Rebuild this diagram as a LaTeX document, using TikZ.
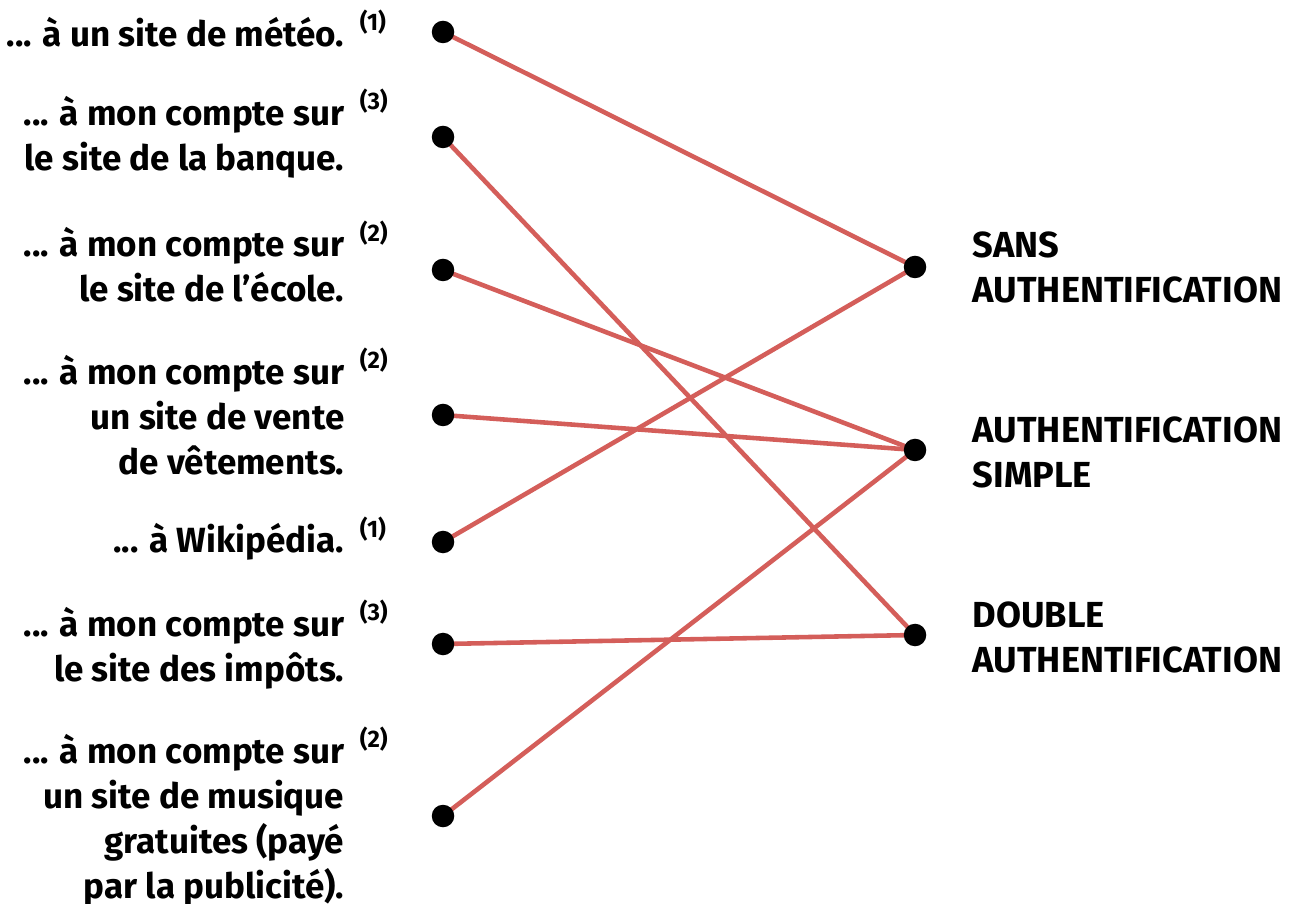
\documentclass[tikz,border=0pt]{standalone}
\usepackage{fontspec}
\setmainfont{Fira Sans}
\usetikzlibrary{positioning,backgrounds}
\definecolor{linkred}{RGB}{212, 94, 90}

\tikzset{
  dot/.style={circle,fill=black,inner sep=0pt,minimum size=6.4pt},
  link/.style={draw=linkred,line width=1.3pt},
  site/.style={anchor=east,align=right,inner sep=0pt,font=\fontsize{9.95}{12.8}\selectfont\bfseries},
  level/.style={anchor=west,align=left,inner sep=0pt,font=\fontsize{10.3}{12.8}\selectfont\bfseries},
  note/.style={anchor=north west,inner sep=0pt,font=\fontsize{6.8}{7}\selectfont\bfseries},
}

\begin{document}
\begin{tikzpicture}[x=0.01cm,y=-0.01cm]
  \useasboundingbox (0,0) rectangle (1298,904);

  % left column: the sites
  \node[site] (meteo)   at (345,32)  {... à un site de météo.};
  \node[site] (banque)  at (345,137) {... à mon compte sur\\le site de la banque.};
  \node[site] (ecole)   at (345,265) {... à mon compte sur\\le site de l’école.};
  \node[site] (vetem)   at (345,415) {... à mon compte sur\\un site de vente\\de vêtements.};
  \node[site] (wiki)    at (345,542) {... à Wikipédia.};
  \node[site] (impots)  at (345,648) {... à mon compte sur\\le site des impôts.};
  \node[site] (musique) at (345,820) {... à mon compte sur\\un site de musique\\gratuites (payé\\par la publicité).};

  \node[note] at ([xshift=4pt,yshift=2pt]meteo.north east)   {(1)};
  \node[note] at ([xshift=4pt,yshift=2pt]banque.north east)  {(3)};
  \node[note] at ([xshift=4pt,yshift=2pt]ecole.north east)   {(2)};
  \node[note] at ([xshift=4pt,yshift=2pt]vetem.north east)   {(2)};
  \node[note] at ([xshift=4pt,yshift=2pt]wiki.north east)    {(1)};
  \node[note] at ([xshift=4pt,yshift=2pt]impots.north east)  {(3)};
  \node[note] at ([xshift=4pt,yshift=2pt]musique.north east) {(2)};

  % dots
  \node[dot] (d1) at (443,32)  {};
  \node[dot] (d2) at (443,137) {};
  \node[dot] (d3) at (443,270) {};
  \node[dot] (d4) at (443,415) {};
  \node[dot] (d5) at (443,542) {};
  \node[dot] (d6) at (443,644) {};
  \node[dot] (d7) at (443,816) {};
  \node[dot] (sans)   at (915,267) {};
  \node[dot] (simple) at (915,450) {};
  \node[dot] (double) at (915,635) {};

  % right column: the levels
  \node[level] (tsans)   at (972,267) {SANS\\AUTHENTIFICATION};
  \node[level] (tsimple) at (972,452) {AUTHENTIFICATION\\SIMPLE};
  \node[level] (tdouble) at (972,637) {DOUBLE\\AUTHENTIFICATION};

  \begin{scope}[on background layer]
    \foreach \a/\b in {d1/sans,d2/double,d3/simple,d4/simple,d5/sans,d6/double,d7/simple}
      \draw[link] (\a.center) -- (\b.center);
  \end{scope}
\end{tikzpicture}
\end{document}
